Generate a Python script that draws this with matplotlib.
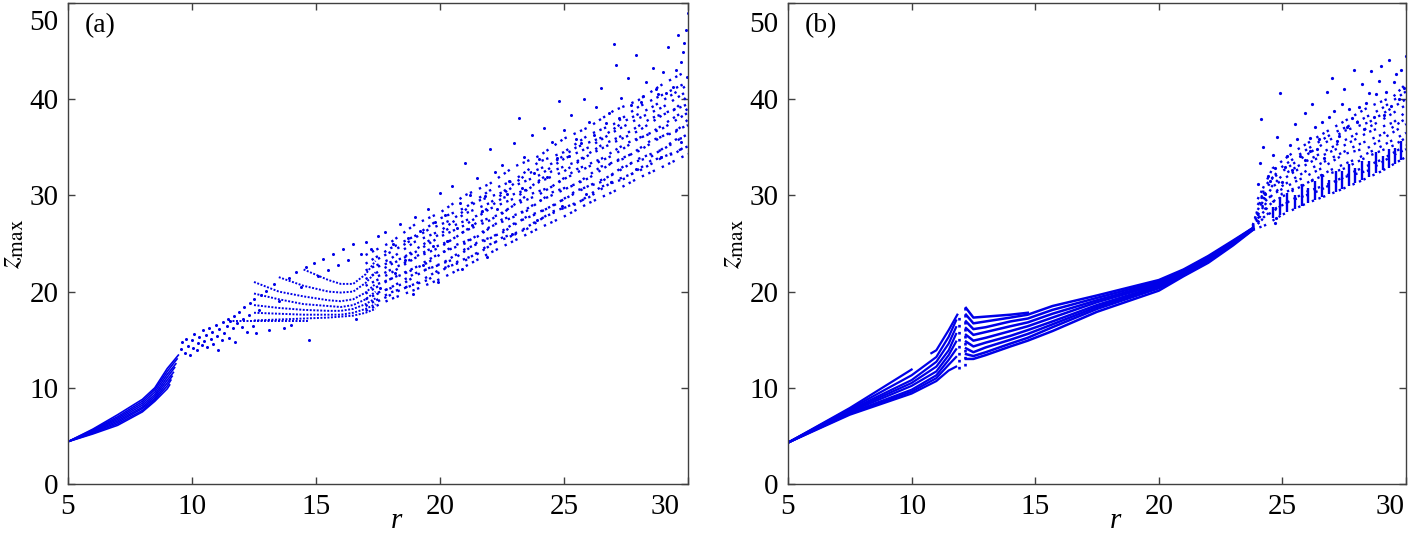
import numpy as np
import matplotlib.pyplot as plt
from matplotlib.transforms import ScaledTranslation

plt.rcParams['font.family'] = ['Liberation Serif', 'DejaVu Serif']
plt.rcParams['mathtext.fontset'] = 'stix'

nan = np.nan
blue = '#0000e8'
dots = (0, (1, 2.0, 1, 1.1, 1, 3.2))   # uneven dotted look of the chaotic strands

# ---------------- panel (a) ----------------
# period fan, r = 5 .. 9.5
fan_a_r = [5.0, 6.0, 7.0, 8.0, 8.5, 9.0]
fan_a_z = [
    [4.4, 5.7, 7.2, 8.8, 10.0, 12.0],
    [4.4, 5.63, 7.0, 8.6, 9.8, 11.7],
    [4.4, 5.56, 6.85, 8.4, 9.55, 11.4],
    [4.4, 5.5, 6.7, 8.2, 9.3, 11.1],
    [4.4, 5.43, 6.55, 8.0, 9.1, 10.8],
    [4.4, 5.36, 6.4, 7.85, 8.9, 10.5],
    [4.4, 5.28, 6.25, 7.65, 8.75, 10.2],
    [4.4, 5.2, 6.1, 7.5, 8.6, 9.9],
]
fan_a_end_r = [9.45, 9.40, 9.35, 9.30, 9.25, 9.20, 9.15, 9.10]
fan_a_end_z = [13.4, 13.0, 12.5, 12.1, 11.6, 11.2, 10.8, 10.3]

# arcs, r = 12.5 .. 17.4
arc_a_r = [12.5, 13.5, 14.5, 15.5, 16.0, 16.5, 17.0, 17.4]
arc_a_z = [
    [nan, nan, 22.3, 21.2, 20.8, 20.8, 21.8, 23.2],
    [nan, 21.5, 20.6, 20.0, 19.9, 20.0, 20.9, 22.0],
    [21.0, 20.0, 19.5, 19.1, 19.0, 19.2, 19.9, 20.8],
    [19.8, 19.2, 18.7, 18.5, 18.4, 18.6, 19.2, 20.0],
    [18.6, 18.3, 18.1, 18.0, 18.0, 18.2, 18.7, 19.3],
    [17.8, 17.7, 17.6, 17.6, 17.6, 17.8, 18.2, 18.7],
    [17.0, 17.1, 17.2, 17.3, 17.4, 17.5, 17.8, 18.2],
]
flat_a_r = [11.5, 14.7]
flat_a_z = [16.9, 16.9]

# chaotic band strands, r = 17 .. 30
band_a_r = [17, 18, 19, 20, 21, 22, 23, 24, 25, 26, 27, 28, 29, 30]
band_a_z = [
    [18.0, 19.2, 20.2, 21.3, 22.6, 24.0, 25.3, 26.6, 27.8, 29.2, 30.4, 31.8, 33.0, 34.3],
    [18.5, 19.9, 20.8, 22.3, 23.2, 24.9, 25.9, 27.5, 28.7, 29.8, 31.5, 32.5, 34.0, 35.1],
    [19.2, 20.4, 21.9, 22.8, 24.4, 25.5, 27.1, 28.2, 29.6, 31.0, 32.2, 33.8, 34.8, 36.4],
    [19.8, 21.3, 22.5, 24.0, 25.0, 26.7, 27.8, 29.4, 30.6, 31.8, 33.5, 34.6, 36.2, 37.3],
    [20.6, 21.9, 23.5, 24.6, 26.3, 27.4, 29.0, 30.1, 31.7, 33.0, 34.2, 35.9, 37.0, 38.6],
    [21.3, 22.8, 24.1, 25.7, 26.9, 28.6, 29.7, 31.4, 32.5, 34.2, 35.5, 36.7, 38.4, 39.5],
    [22.2, 23.4, 25.2, 26.3, 28.1, 29.2, 31.0, 32.1, 33.8, 35.0, 36.6, 38.0, 39.2, 40.9],
    [22.9, 24.5, 25.8, 27.6, 28.7, 30.5, 31.6, 33.5, 34.5, 36.3, 37.4, 39.2, 40.5, 41.8],
    [23.8, 25.1, 27.0, 28.2, 30.0, 31.2, 33.0, 34.1, 35.9, 37.1, 38.8, 39.9, 41.6, 43.0],
]
band2_a_r = [17.5, 18.5, 19.5, 20.5, 21.5, 22.5, 23.5, 24.5, 25.5, 26.5, 27.5, 28.5, 29.5, 30]
band2_a_z = [
    [19.0, 20.3, 21.2, 22.9, 23.9, 25.6, 26.5, 28.3, 29.1, 30.9, 31.8, 33.6, 34.4, 35.3],
    [19.9, 20.8, 22.4, 23.3, 25.1, 26.1, 27.8, 28.8, 30.5, 31.4, 33.2, 34.0, 35.8, 36.1],
    [20.8, 21.8, 23.0, 24.7, 25.7, 27.5, 28.4, 30.3, 31.2, 33.0, 33.9, 35.7, 36.6, 37.9],
    [21.6, 22.9, 24.3, 25.4, 27.2, 28.1, 30.0, 30.9, 32.7, 33.8, 35.4, 36.5, 38.2, 39.0],
    [22.6, 23.5, 25.2, 26.8, 27.9, 29.7, 30.6, 32.5, 33.5, 35.2, 36.4, 38.0, 39.0, 40.4],
    [23.4, 24.8, 26.4, 27.5, 29.4, 30.3, 32.2, 33.3, 35.0, 36.0, 37.8, 39.1, 40.7, 41.5],
]

# loose points
pts_a_r = [9.55, 9.6, 9.7, 9.75, 9.85, 9.9, 10.0, 10.05, 10.1, 10.2, 10.25, 10.3,
           10.4, 10.45, 10.5, 10.55, 10.6, 10.7, 10.75, 10.8, 10.85, 10.95, 11.0,
           11.05, 11.1, 11.2, 11.25, 11.3, 11.4, 11.45, 11.5, 11.55, 11.65, 11.7,
           11.75, 11.8, 11.9, 12.0, 12.05, 12.1, 12.2, 12.3, 12.35, 12.45, 12.5,
           12.6, 12.7, 12.8, 13.0, 13.1, 13.3, 13.5, 13.7, 13.9, 14.0, 14.2, 14.4,
           14.6, 14.7, 14.9, 15.1, 15.3, 15.5, 15.7, 15.9, 16.1, 16.3, 16.5, 16.6,
           16.8, 17.0, 17.2, 17.5,
           17.8, 18.1, 18.4, 18.7, 19.0, 19.2, 19.5, 19.8, 20.0, 20.2, 20.5, 20.8,
           21.0, 21.2, 21.5, 21.8, 22.0, 22.2, 22.5, 22.8, 23.0, 23.2, 23.4, 23.7,
           24.0, 24.2, 24.5, 24.8, 25.0, 25.3, 25.5, 25.8, 26.0, 26.3, 26.5, 26.8,
           27.0, 27.1, 27.3, 27.6, 27.9, 28.1, 28.3, 28.6, 28.8, 29.0, 29.2, 29.4,
           29.6, 29.7, 29.8, 29.9, 30.0, 29.95]
pts_a_z = [14.0, 14.8, 13.6, 15.1, 14.3, 13.4, 15.0, 14.1, 15.6, 13.9, 14.7, 15.3,
           14.4, 16.0, 14.9, 15.5, 14.2, 16.2, 15.1, 15.8, 14.6, 16.5, 15.4,
           13.9, 16.1, 15.0, 16.8, 15.7, 16.4, 17.2, 15.2, 16.9, 16.2, 17.5,
           14.8, 16.7, 17.9, 16.3, 17.2, 18.4, 15.8, 17.6, 18.8, 16.4, 19.2,
           15.7, 18.1, 19.6, 20.1, 16.0, 20.8, 19.0, 16.2, 21.4, 16.5, 22.0, 20.5,
           22.6, 15.0, 23.0, 21.6, 23.4, 22.2, 23.9, 22.8, 24.4, 23.3, 24.9, 17.1,
           23.9, 25.2, 24.4, 25.8,
           26.2, 24.9, 27.0, 25.6, 27.8, 26.3, 28.6, 27.2, 30.3, 28.0, 31.0, 29.2,
           33.4, 30.0, 31.8, 29.9, 34.8, 32.4, 33.2, 31.5, 35.4, 38.0, 34.0, 36.3,
           33.8, 37.0, 35.5, 39.8, 36.8, 38.4, 35.9, 40.0, 37.6, 39.2, 41.2, 38.6,
           45.7, 43.6, 40.1, 42.2, 44.6, 39.7, 41.8, 43.2, 40.5, 42.8, 45.4, 41.3,
           46.7, 43.9, 44.9, 47.2, 49.0, 42.3]
pts2_a_r = [17.6, 18.2, 18.6, 19.3, 19.7, 20.3, 20.7, 21.3, 21.7, 22.3, 22.7, 23.3,
            23.8, 24.3, 24.7, 25.2, 25.7, 26.2, 26.7, 27.2, 27.7, 28.2, 28.7, 29.1,
            29.5, 29.85, 18.9, 19.9, 20.9, 21.9, 22.9, 23.9, 24.9, 25.9, 26.9, 27.9,
            28.9, 29.7]
pts2_a_z = [20.4, 21.9, 23.3, 22.8, 24.7, 25.3, 26.6, 26.9, 28.4, 28.6, 30.1, 30.8,
            32.3, 31.9, 33.9, 34.1, 35.4, 36.3, 37.5, 38.0, 39.4, 40.3, 41.1, 40.6,
            43.0, 45.8, 19.7, 21.0, 22.3, 23.6, 26.0, 27.4, 28.9, 30.1, 31.4, 32.7,
            34.0, 35.5]

# ---------------- panel (b) ----------------
fan_b_r = [5.0, 7.5, 10.0, 11.0, 11.5, 11.8]
fan_b_z = [
    [4.3, 7.9, 11.9, nan, nan, nan],
    [4.3, 7.8, 11.3, 13.2, 15.3, 17.0],
    [4.3, 7.7, 10.8, 12.7, 14.6, 16.3],
    [4.3, 7.6, 10.5, 12.2, 13.9, 15.6],
    [4.3, 7.5, 10.2, 11.7, 13.4, 14.8],
    [4.3, 7.4, 9.8, 11.3, 12.9, 14.0],
    [4.3, 7.3, 9.6, 11.0, 12.4, 13.2],
    [4.3, 7.2, 9.4, 10.7, 11.8, 12.2],
]
seg_b_r = [10.8, 11.0, 11.5, 11.85]
seg_b_z = [13.6, 13.9, 16.0, 17.6]

spike_b_r = [11.9, 12.15]
spike_b_lo = [12.0, 12.3]
spike_b_hi = [17.6, 18.4]

band_b_r = [12.2, 12.5, 13.0, 14.0, 14.7, 15.7, 17.5, 20.0, 21.0, 22.0, 23.0, 23.8]
band_b_z = [
    [18.3, 17.3, 17.4, 17.6, 17.8, nan, nan, nan, nan, nan, nan, nan],
    [17.6, 16.7, 16.9, 17.3, 17.6, 18.5, 19.6, 21.2, 22.3, 23.7, 25.3, 26.6],
    [16.9, 16.1, 16.3, 16.9, 17.2, 18.1, 19.35, 21.05, 22.2, 23.6, 25.2, 26.6],
    [16.2, 15.5, 15.8, 16.4, 16.8, 17.7, 19.1, 20.9, 22.1, 23.5, 25.15, 26.55],
    [15.5, 14.9, 15.2, 15.9, 16.4, 17.3, 18.9, 20.75, 22.0, 23.4, 25.1, 26.5],
    [14.8, 14.3, 14.7, 15.4, 16.0, 16.9, 18.6, 20.6, 21.9, 23.3, 25.0, 26.5],
    [14.1, 13.7, 14.2, 15.0, 15.6, 16.6, 18.4, 20.5, 21.8, 23.2, 24.95, 26.45],
    [13.5, 13.3, 13.7, 14.6, 15.2, 16.3, 18.2, 20.35, 21.7, 23.1, 24.9, 26.45],
    [13.0, 13.0, 13.4, 14.3, 14.9, 15.9, 17.9, 20.1, 21.6, 23.0, 24.8, 26.4],
]

chaos_b_r = [23.8, 24.3, 25.0, 26.0, 27.0, 28.0, 29.0, 30.0]
chaos_b_z = [
    [26.4, 26.9, 28.0, 29.2, 30.2, 31.3, 32.5, 34.0],
    [26.5, 27.8, 29.0, 30.4, 31.3, 32.6, 33.7, 35.2],
    [26.6, 28.6, 30.2, 31.3, 32.7, 33.8, 35.1, 36.5],
    [26.7, 29.4, 31.0, 32.6, 33.9, 35.2, 36.3, 38.0],
    [26.8, 30.2, 32.1, 33.6, 35.0, 36.4, 37.8, 39.4],
    [26.9, 31.0, 33.0, 34.8, 36.4, 37.6, 39.0, 40.8],
]
chaos2_b_r = [24.0, 24.6, 25.5, 26.5, 27.5, 28.5, 29.5, 30.0]
chaos2_b_z = [
    [27.2, 28.5, 29.6, 30.5, 31.9, 32.6, 34.2, 34.8],
    [27.6, 29.3, 30.6, 31.9, 32.8, 34.1, 35.2, 36.0],
    [28.0, 30.1, 31.4, 32.7, 34.3, 35.0, 36.6, 37.4],
    [28.5, 30.9, 32.5, 34.0, 35.2, 36.6, 37.6, 38.7],
    [29.0, 31.8, 33.4, 35.1, 36.7, 37.6, 39.2, 40.0],
    [29.6, 32.8, 34.6, 36.2, 37.7, 39.2, 40.3, 41.6],
]
finger_b_r = [24.6, 24.9, 25.2, 25.5, 25.8, 26.05, 26.3, 26.6, 26.9, 27.15,
              27.4, 27.7, 27.95, 28.2, 28.5, 28.8, 29.05, 29.3, 29.55, 29.8]
finger_b_lo = [27.6, 28.0, 28.3, 28.6, 28.9, 29.2, 29.5, 29.8, 30.1, 30.4,
               30.7, 31.0, 31.3, 31.6, 31.9, 32.3, 32.6, 32.9, 33.3, 33.7]
finger_b_hi = [28.8, 29.8, 30.3, 30.0, 31.1, 30.8, 31.5, 32.2, 31.6, 32.5,
               32.5, 33.3, 32.9, 33.6, 33.6, 34.5, 34.1, 34.8, 34.9, 35.7]

pts_b_r = [24.0, 24.1, 24.2, 24.15, 24.4, 24.6, 24.8, 24.9, 25.1, 25.3, 25.5, 25.7,
           25.9, 26.1, 26.2, 26.4, 26.6, 26.8, 27.0, 27.1, 27.3, 27.5, 27.7, 27.9,
           28.0, 28.2, 28.4, 28.6, 28.8, 29.0, 29.1, 29.3, 29.5, 29.7, 29.8, 30.0,
           24.7, 24.75,
           24.3, 24.5, 24.7, 25.0, 25.2, 25.4, 25.6, 25.9, 26.1, 26.3, 26.5, 26.7,
           26.9, 27.2, 27.4, 27.6, 27.8, 28.1, 28.3, 28.5, 28.7, 28.9, 29.2, 29.4,
           29.6, 29.9]
pts_b_z = [31.2, 33.4, 35.0, 37.9, 32.0, 34.2, 36.1, 40.6, 33.0, 35.2, 37.4, 34.1,
           38.6, 36.0, 39.5, 34.8, 37.6, 40.8, 42.2, 38.8, 36.2, 41.1, 39.0, 43.0,
           37.6, 41.6, 39.6, 42.9, 40.5, 43.4, 38.4, 44.1, 41.8, 40.0, 43.0, 44.5,
           27.1, 27.6,
           30.1, 31.5, 32.9, 31.4, 34.1, 32.6, 35.9, 33.7, 34.6, 37.1, 35.9, 33.9,
           38.2, 35.7, 39.5, 37.1, 38.0, 39.2, 36.9, 40.6, 38.1, 41.9, 40.7, 39.3,
           42.6, 41.2]

fig = plt.figure(figsize=(14.12, 5.38), dpi=100)
ax_a = fig.add_axes([68 / 1412, 54 / 538, 620 / 1412, 481 / 538])
ax_b = fig.add_axes([788 / 1412, 54 / 538, 618 / 1412, 481 / 538])

# panel (a)
for i in range(len(fan_a_z)):
    ax_a.plot(fan_a_r + [fan_a_end_r[i]], fan_a_z[i] + [fan_a_end_z[i]],
              color=blue, lw=1.2)
for z in arc_a_z:
    ax_a.plot(arc_a_r, z, ls=(0, (1, 0.8)), color=blue, lw=1.4)
ax_a.plot(flat_a_r, flat_a_z, ls=(0, (1, 0.8)), color=blue, lw=1.4)
for z in band_a_z:
    ax_a.plot(band_a_r, z, ls=dots, color=blue, lw=1.7)
for z in band2_a_z:
    ax_a.plot(band2_a_r, z, ls=dots, color=blue, lw=1.7)
ax_a.plot(pts_a_r, pts_a_z, 'o', color=blue, ms=2.2, mec='none')
ax_a.plot(pts2_a_r, pts2_a_z, 'o', color=blue, ms=2.2, mec='none')

# panel (b)
for z in fan_b_z:
    ax_b.plot(fan_b_r, z, color=blue, lw=1.6)
ax_b.plot(seg_b_r, seg_b_z, color=blue, lw=1.6)
ax_b.vlines(spike_b_r, spike_b_lo, spike_b_hi, colors=blue, linestyles=':', lw=1.9)
for z in band_b_z:
    ax_b.plot(band_b_r, z, color=blue, lw=1.8)
for z in chaos_b_z:
    ax_b.plot(chaos_b_r, z, ls=dots, color=blue, lw=1.7)
for z in chaos2_b_z:
    ax_b.plot(chaos2_b_r, z, ls=dots, color=blue, lw=1.7)
ax_b.vlines(finger_b_r, finger_b_lo, finger_b_hi, colors=blue, lw=1.7)
ax_b.plot(pts_b_r, pts_b_z, 'o', color=blue, ms=2.3, mec='none')

# axes styling, MATLAB look
shift_x = [-23, -16]
shift_y = [-17, -19]
for k, (ax, tag) in enumerate([(ax_a, '(a)'), (ax_b, '(b)')]):
    ax.set_xlim(5, 30)
    ax.set_ylim(0, 50)
    ax.set_xticks(range(5, 31, 5))
    ax.set_yticks(range(0, 51, 10))
    ax.tick_params(direction='in', top=True, right=True, length=5, width=1,
                   labelsize=21, color='#404040')
    ax.tick_params(axis='x', pad=7)
    ax.tick_params(axis='y', pad=7)
    for s in ax.spines.values():
        s.set_color('#404040')
        s.set_linewidth(1.0)
    ax.set_xlabel('r', style='italic', fontsize=21)
    ax.xaxis.set_label_coords(0.53, -0.05)
    ax.set_ylabel(r'$z_{\rm max}$', fontsize=22, labelpad=2)
    ax.text(0.027, 0.978, tag, transform=ax.transAxes, va='top', ha='left',
            fontsize=20)
    lx = ax.get_xticklabels()[-1]
    lx.set_transform(lx.get_transform() +
                     ScaledTranslation(shift_x[k] / 100, 0, fig.dpi_scale_trans))
    ly = ax.get_yticklabels()[-1]
    ly.set_transform(ly.get_transform() +
                     ScaledTranslation(0, shift_y[k] / 100, fig.dpi_scale_trans))

plt.savefig('out.png', dpi=100)
